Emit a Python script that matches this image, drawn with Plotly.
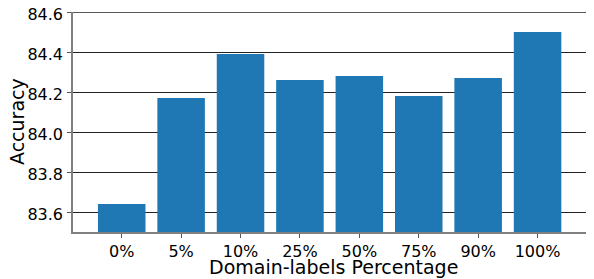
import plotly.graph_objects as go

categories = ["0%", "5%", "10%", "25%", "50%", "75%", "90%", "100%"]
accuracy = [83.64, 84.17, 84.39, 84.26, 84.28, 84.18, 84.27, 84.50]
y_ticks = [83.6, 83.8, 84.0, 84.2, 84.4, 84.6]
y_tick_text = ["83.6", "83.8", "84.0", "84.2", "84.4", "84.6"]
y_floor = 83.5

FONT = "DejaVu Sans"
GRID = "#222222"

fig = go.Figure()
fig.add_trace(go.Bar(
    x=list(range(len(categories))),
    y=[v - y_floor for v in accuracy],
    base=y_floor,
    width=0.8,
    marker=dict(color="#1f77b4", line=dict(width=0)),
))

# page body has an 8px margin: figure occupies page x 8..594, y 8..279
fig.update_layout(
    width=586, height=271,
    margin=dict(l=65, r=0, t=4, b=47, autoexpand=False),
    plot_bgcolor="white", paper_bgcolor="white",
    showlegend=False,
    font=dict(family=FONT, size=16, color="#000000"),
)
fig.update_xaxes(
    range=[-0.82, 7.95],
    tickvals=list(range(len(categories))),
    ticktext=categories,
    ticks="outside", ticklen=4, tickwidth=1, tickcolor="#555555",
    showline=True, linecolor="#808080", linewidth=1.5,
    showgrid=False, zeroline=False, automargin=False,
    tickfont=dict(family=FONT, size=16),
)
fig.update_yaxes(
    range=[y_floor, max(y_ticks)],
    tickvals=y_ticks, ticktext=y_tick_text,
    ticks="outside", ticklen=4, tickwidth=1, tickcolor="#555555",
    showline=True, linecolor="#808080", linewidth=1.5,
    showgrid=True, gridcolor=GRID, gridwidth=1,
    zeroline=False, automargin=False,
    ticklabeloverflow="allow", ticklabelshift=2, ticklabelstandoff=1,
    tickfont=dict(family=FONT, size=16),
)
# top gridline (plotly omits the grid line at the range edge)
fig.add_hline(y=max(y_ticks), line=dict(color=GRID, width=1.5), layer="below")

fig.add_annotation(
    text="Domain-labels Percentage", xref="paper", yref="paper",
    x=0.5, y=0, yshift=-35, xanchor="center", yanchor="middle",
    showarrow=False, font=dict(family=FONT, size=19),
)
fig.add_annotation(
    text="Accuracy", xref="paper", yref="paper",
    x=0, y=0.5, xshift=-56, xanchor="center", yanchor="middle",
    textangle=-90, showarrow=False, font=dict(family=FONT, size=19),
)
fig.write_html("out.html")
